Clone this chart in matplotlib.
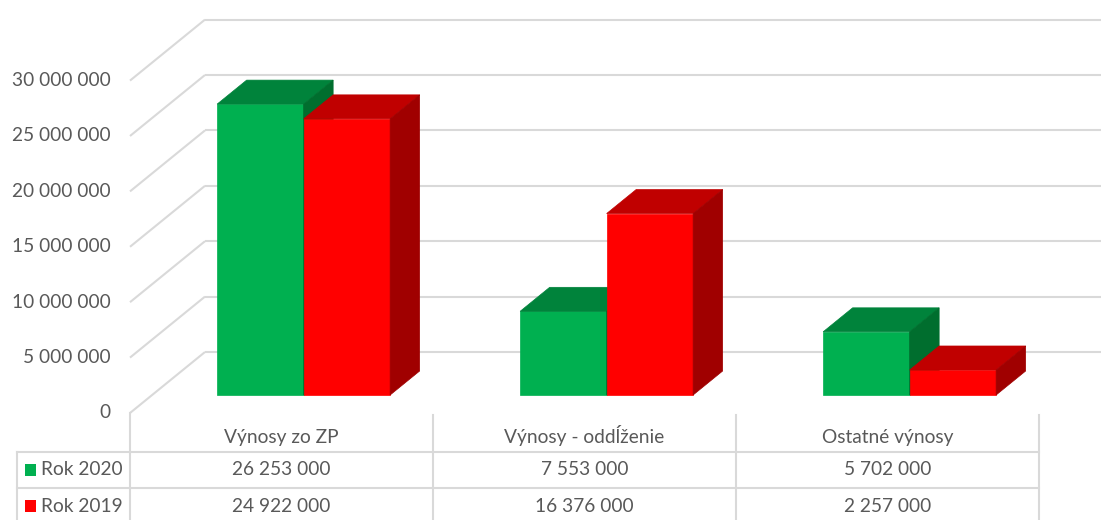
import matplotlib
matplotlib.use("Agg")
import matplotlib.pyplot as plt
from matplotlib.patches import Polygon, Rectangle

# data
categories = ["Výnosy zo ZP", "Výnosy - oddĺženie", "Ostatné výnosy"]
series_names = ["Rok 2020", "Rok 2019"]
rok_2020 = [26253000, 7553000, 5702000]
rok_2019 = [24922000, 16376000, 2257000]
yticks = [0, 5000000, 10000000, 15000000, 20000000, 25000000, 30000000]

W, H = 1101, 520
fig = plt.figure(figsize=(W / 100, H / 100), dpi=100)
ax = fig.add_axes([0, 0, 1, 1])
ax.set_axis_off()

# pixel layout of the front floor plane
x0_px, col_px = 130, 303          # left edge of floor, width of one category
y0_px, m_px = 413, 11.08e-6       # pixel row of value 0, pixels per unit
ax.set_xlim(-0.5 - x0_px / col_px, -0.5 + (W - x0_px) / col_px)
ax.set_ylim(-(H - y0_px) / m_px, y0_px / m_px)

# depth of the 3d box (in data units)
DX = 75 / col_px
DY = 61 / m_px
f0, f1 = 18 / 61, 42 / 61  # front and back of the bars (fraction of depth)
bw = 86.5 / col_px

grid_c = "#D9D9D9"
text_c = "#595959"
font = "Lato"
fs = 13.8

xmax = ax.get_xlim()[1]
for v in yticks:
    # left wall
    ax.plot([-0.5, -0.5 + DX], [v, v + DY], color=grid_c, lw=1.5, zorder=1,
            solid_capstyle="butt")
    # back wall
    ax.plot([-0.5 + DX, xmax], [v + DY, v + DY], color=grid_c, lw=1.5, zorder=1,
            solid_capstyle="butt")
    ax.text(-0.5 - 19 / col_px, v, f"{v:,}".replace(",", " "), ha="right",
            va="center", color=text_c, fontsize=fs, family=font)

colors = [("#00B050", "#00833B", "#006E2E"), ("#FF0000", "#C00000", "#A00000")]


def bar3d(xl, h, cols):
    front, top, side = cols
    xr = xl + bw
    bx0, by0 = f0 * DX, f0 * DY
    bx1, by1 = f1 * DX, f1 * DY
    ax.add_patch(Rectangle((xl + bx0, by0), bw, h, facecolor=front,
                           edgecolor=front, lw=0.5, zorder=3))
    ax.add_patch(Polygon([(xl + bx0, h + by0), (xr + bx0, h + by0),
                          (xr + bx1, h + by1), (xl + bx1, h + by1)],
                         facecolor=top, edgecolor=top, lw=0.5, zorder=3))
    ax.add_patch(Polygon([(xr + bx0, h + by0), (xr + bx1, h + by1),
                          (xr + bx1, by1), (xr + bx0, by0)],
                         facecolor=side, edgecolor=side, lw=0.5, zorder=3))


for i in range(len(categories)):
    bar3d(i - bw, rok_2020[i], colors[0])
    bar3d(i, rok_2019[i], colors[1])


# data table below the chart (layout in pixels)
def px(x, y):
    return x / W, 1 - y / H


tr = ax.transAxes
col_edges = [130 + k * col_px for k in range(len(categories) + 1)]
for k, xe in enumerate(col_edges):
    ytop = 413 if k == 0 else 415
    ax.plot(*zip(px(xe, ytop), px(xe, H)), color=grid_c, lw=1.5, transform=tr)
ax.plot(*zip(px(17, 451.5), px(17, H)), color=grid_c, lw=1.5, transform=tr)
for yr in [451.5, 488]:
    ax.plot(*zip(px(17, yr), px(col_edges[-1], yr)), color=grid_c, lw=1.5,
            transform=tr)

row_y = [438, 469.5, 506]
for i, cat in enumerate(categories):
    xc = 130 + (i + 0.5) * col_px
    ax.text(*px(xc, 443.5), cat, ha="center", va="baseline",
            color=text_c, fontsize=fs, family=font, transform=tr)
    for j, vals in enumerate([rok_2020, rok_2019]):
        ax.text(*px(xc, row_y[j + 1]), f"{vals[i]:,}".replace(",", " "),
                ha="center", va="center", color=text_c, fontsize=fs,
                family=font, transform=tr)

for j, name in enumerate(series_names):
    sx, sy = px(25, row_y[j + 1] + 6)
    ax.add_patch(Rectangle((sx, sy), 11 / W, 12 / H, facecolor=colors[j][0],
                           edgecolor="none", transform=tr))
    ax.text(*px(41, row_y[j + 1]), name, ha="left", va="center", color=text_c,
            fontsize=fs, family=font, transform=tr)

fig.savefig("out.png", dpi=100)
